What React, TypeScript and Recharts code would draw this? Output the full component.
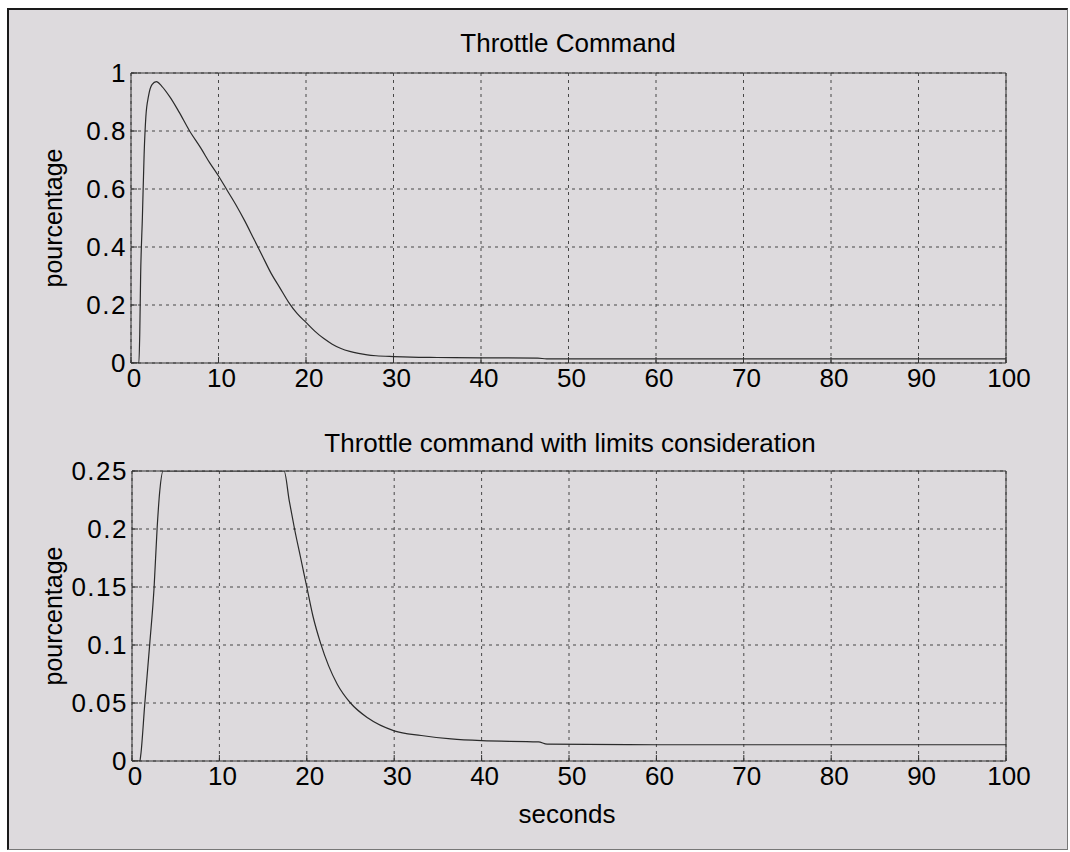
import React from 'react';
import { LineChart, Line, XAxis, YAxis, CartesianGrid } from 'recharts';

const FONT = "'Liberation Sans', Arial, Helvetica, sans-serif";

const timeTicks = [0, 10, 20, 30, 40, 50, 60, 70, 80, 90, 100];
const topTicks = [0, 0.2, 0.4, 0.6, 0.8, 1];
const bottomTicks = [0, 0.05, 0.1, 0.15, 0.2, 0.25];

const topTitle = 'Throttle Command';
const bottomTitle = 'Throttle command with limits consideration';
const yLabel = 'pourcentage';
const xLabel = 'seconds';

// Throttle command (seconds, fraction)
const throttleTime = [0, 0.9, 1.0, 1.1, 1.3, 1.5, 1.7, 2.0, 2.4, 2.9, 3.5, 4.5, 5.5, 6.7, 8, 9, 10, 11, 12, 13, 14, 15, 16, 17, 18, 19, 20, 21, 22, 23, 24, 25, 26, 27, 28, 30, 32, 35, 40, 46.5, 47.5, 60, 80, 100];
const throttleValue = [0, 0, 0.1, 0.3, 0.5, 0.72, 0.85, 0.92, 0.96, 0.97, 0.955, 0.915, 0.865, 0.8, 0.74, 0.69, 0.645, 0.595, 0.545, 0.49, 0.43, 0.37, 0.31, 0.26, 0.21, 0.17, 0.14, 0.11, 0.085, 0.065, 0.05, 0.04, 0.033, 0.028, 0.025, 0.022, 0.02, 0.019, 0.018, 0.017, 0.014, 0.014, 0.014, 0.014];

// Throttle command with limits (seconds, fraction)
const limitedTime = [0, 0.9, 1.0, 1.46, 2.03, 2.53, 2.87, 3.18, 3.56, 17.4, 18.0, 18.6, 19.3, 20, 20.7, 21.6, 22.5, 23.5, 25, 27, 30, 33.1, 36.5, 40, 46.5, 47.5, 60, 80, 100];
const limitedValue = [0, 0, 0.005, 0.049, 0.101, 0.15, 0.2, 0.233, 0.25, 0.25, 0.224, 0.2, 0.175, 0.15, 0.125, 0.101, 0.082, 0.066, 0.05, 0.037, 0.026, 0.022, 0.019, 0.0175, 0.0165, 0.0145, 0.014, 0.014, 0.014];

const topData = throttleTime.map((t, i) => ({ t, v: throttleValue[i] }));
const bottomData = limitedTime.map((t, i) => ({ t, v: limitedValue[i] }));

const xTickStyle = { fill: '#000', fontSize: 26, fontFamily: FONT, dx: 3 };
const yTickStyle = { fill: '#000', fontSize: 26, fontFamily: FONT, letterSpacing: 1.5 };
const axisStroke = { stroke: '#333', strokeWidth: 1 };

function Panel({ data, yTicks, yMax, height, margin, yWidth }: any) {
  return (
    <LineChart width={1070} height={height} data={data} margin={margin}>
      <CartesianGrid stroke="#222" strokeDasharray="3 4" strokeWidth={0.8} />
      <XAxis
        dataKey="t"
        type="number"
        domain={[0, 100]}
        ticks={timeTicks}
        interval={0}
        allowDataOverflow
        height={30}
        tickSize={-6}
        tickMargin={12}
        tick={xTickStyle}
        axisLine={axisStroke}
        tickLine={axisStroke}
      />
      <XAxis
        xAxisId="top"
        orientation="top"
        type="number"
        domain={[0, 100]}
        ticks={timeTicks}
        interval={0}
        allowDataOverflow
        height={1}
        tickSize={-6}
        tick={false}
        axisLine={axisStroke}
        tickLine={axisStroke}
      />
      <YAxis
        type="number"
        domain={[0, yMax]}
        ticks={yTicks}
        interval={0}
        allowDataOverflow
        width={yWidth}
        tickSize={-6}
        tickMargin={10}
        tick={yTickStyle}
        axisLine={axisStroke}
        tickLine={axisStroke}
      />
      <YAxis
        yAxisId="right"
        orientation="right"
        type="number"
        domain={[0, yMax]}
        ticks={yTicks}
        interval={0}
        allowDataOverflow
        width={1}
        tickSize={-6}
        tick={false}
        axisLine={axisStroke}
        tickLine={axisStroke}
      />
      <Line
        dataKey="v"
        type="monotone"
        stroke="#2a2a2a"
        strokeWidth={1.2}
        dot={false}
        isAnimationActive={false}
      />
    </LineChart>
  );
}

export default function App() {
  return (
    <div style={{ position: 'absolute', left: 0, top: 0, width: 1070, height: 852, background: '#fff', overflow: 'hidden' }}>
      <div
        style={{
          position: 'absolute',
          left: 7,
          top: 8,
          width: 1061,
          height: 842,
          boxSizing: 'border-box',
          background: '#dddadd',
          borderTop: '2px solid #1a1a1a',
          borderLeft: '2px solid #1a1a1a',
          borderRight: '1px solid #777',
          borderBottom: '1px solid #777',
        }}
      />
      <div style={{ position: 'absolute', left: 0, top: 0 }}>
        <Panel data={topData} yTicks={topTicks} yMax={1} height={400} margin={{ top: 72, right: 63, bottom: 7, left: 0 }} yWidth={131} />
      </div>
      <div style={{ position: 'absolute', left: 0, top: 400 }}>
        <Panel data={bottomData} yTicks={bottomTicks} yMax={0.25} height={452} margin={{ top: 70, right: 63, bottom: 61, left: 0 }} yWidth={132} />
      </div>
      <svg width={1070} height={852} style={{ position: 'absolute', left: 0, top: 0, pointerEvents: 'none' }}>
        <text x={568} y={52} textAnchor="middle" fontFamily={FONT} fontSize={26} fill="#000">{topTitle}</text>
        <text x={570} y={452} textAnchor="middle" fontFamily={FONT} fontSize={26} fill="#000">{bottomTitle}</text>
        <text transform="translate(62,218) rotate(-90)" textAnchor="middle" fontFamily={FONT} fontSize={25} fill="#000">{yLabel}</text>
        <text transform="translate(62,616) rotate(-90)" textAnchor="middle" fontFamily={FONT} fontSize={25} fill="#000">{yLabel}</text>
        <text x={567} y={823} textAnchor="middle" fontFamily={FONT} fontSize={26} fill="#000">{xLabel}</text>
      </svg>
    </div>
  );
}
